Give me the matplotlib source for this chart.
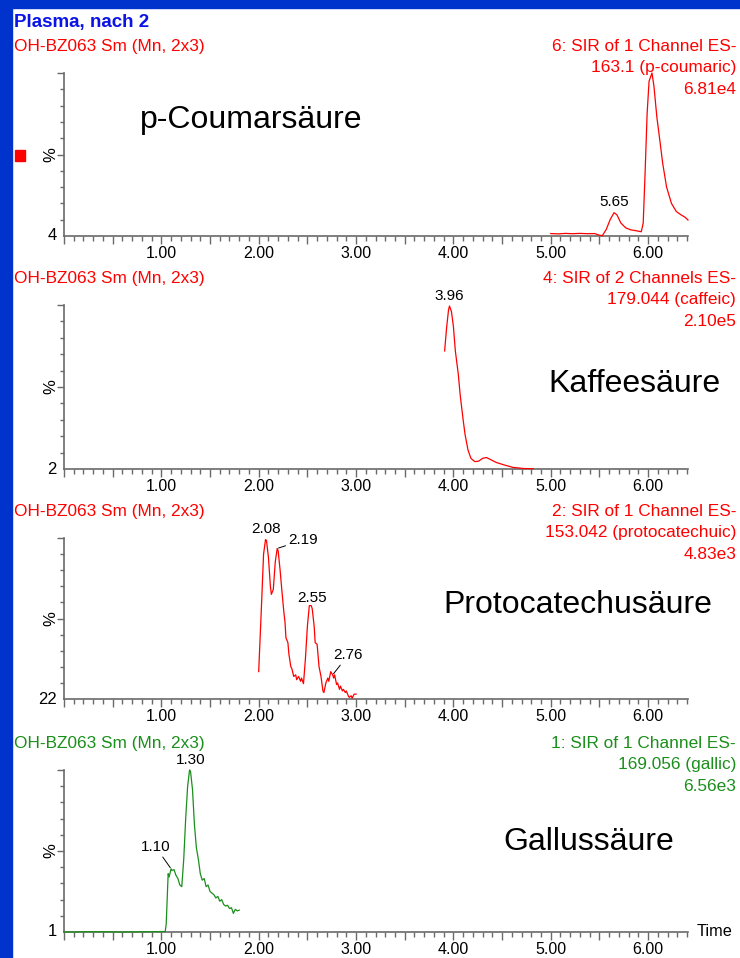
import matplotlib
matplotlib.use("Agg")
import matplotlib.pyplot as plt
from matplotlib.patches import Rectangle
from matplotlib.ticker import MultipleLocator, FixedLocator, NullFormatter, FuncFormatter

plt.rcParams['font.family'] = ['Liberation Sans', 'DejaVu Sans']

W, H = 740, 958

# ---- data (time in min, intensity in %) ----
title = "Plasma, nach 2"
sample = "OH-BZ063 Sm (Mn, 2x3)"
compounds = ["p-Coumarsäure", "Kaffeesäure", "Protocatechusäure", "Gallussäure"]
channel_info = [
    ["6: SIR of 1 Channel ES-", "163.1 (p-coumaric)", "6.81e4"],
    ["4: SIR of 2 Channels ES-", "179.044 (caffeic)", "2.10e5"],
    ["2: SIR of 1 Channel ES-", "153.042 (protocatechuic)", "4.83e3"],
    ["1: SIR of 1 Channel ES-", "169.056 (gallic)", "6.56e3"],
]
baseline_vals = ["4", "2", "22", "1"]

coum_t = [5.00, 5.08, 5.15, 5.22, 5.30, 5.38, 5.45, 5.50, 5.53, 5.57, 5.61, 5.65,
          5.68, 5.72, 5.77, 5.82, 5.88, 5.93, 5.95, 5.97, 5.99, 6.01, 6.04, 6.06,
          6.09, 6.12, 6.15, 6.19, 6.24, 6.29, 6.34, 6.38, 6.41]
coum_i = [1.5, 1.3, 1.6, 1.4, 1.6, 1.4, 1.5, 0.5, 0.2, 4, 10, 14.3,
          13, 8, 5, 3.8, 3.2, 2.6, 8, 40, 75, 95, 100, 92,
          73, 59, 44.6, 30, 20, 15, 12.9, 11.5, 9.8]

caff_t = [3.91, 3.93, 3.95, 3.96, 3.98, 4.00, 4.02, 4.05, 4.07, 4.10, 4.12, 4.15,
          4.18, 4.22, 4.26, 4.30, 4.34, 4.38, 4.44, 4.52, 4.61, 4.72, 4.82]
caff_i = [72, 86, 97, 99.4, 96, 87, 72, 58, 45, 30, 21, 11.6,
          6.5, 4.5, 4.8, 6.5, 7, 5.8, 4, 2.5, 1, 0.3, 0.2]

proto_t = [2.00, 2.03, 2.05, 2.07, 2.08, 2.10, 2.12, 2.13, 2.15, 2.17, 2.19, 2.20,
           2.22, 2.24, 2.26, 2.27, 2.28, 2.30, 2.31, 2.33, 2.34, 2.36, 2.38, 2.39,
           2.41, 2.43, 2.44, 2.46, 2.48, 2.50, 2.52, 2.54, 2.55, 2.57, 2.58, 2.60,
           2.62, 2.64, 2.66, 2.67, 2.69, 2.71, 2.72, 2.74, 2.76, 2.77, 2.78, 2.80,
           2.81, 2.83, 2.84, 2.86, 2.87, 2.89, 2.90, 2.92, 2.93, 2.95, 2.96, 2.98, 3.00]
proto_i = [17, 60, 90, 99, 98.5, 88, 70, 65, 68, 85, 93.5, 92,
           80, 66, 53, 48, 38, 35, 28, 20, 19, 14, 15, 12,
           14, 11, 13, 9.5, 25, 45, 58, 58, 56, 45, 35, 34,
           20, 14, 5, 4, 10, 13, 11, 17, 15, 13, 15, 9,
           10, 6, 8, 5, 6, 4, 5, 2, 1, 2, 0.5, 3, 3]

gall_t = [0.00, 0.30, 0.60, 0.90, 1.04, 1.05, 1.07, 1.08, 1.10, 1.11, 1.13, 1.15,
          1.17, 1.19, 1.21, 1.23, 1.25, 1.27, 1.29, 1.30, 1.32, 1.34, 1.36, 1.38,
          1.40, 1.42, 1.44, 1.46, 1.48, 1.50, 1.52, 1.54, 1.56, 1.58, 1.60, 1.62,
          1.64, 1.66, 1.68, 1.70, 1.72, 1.74, 1.76, 1.78, 1.80]
gall_i = [0, 0.2, 0, 0.2, 0.3, 5, 36, 34, 39, 38, 38.5, 35,
          33, 29, 28, 45, 70, 90, 100, 99, 88, 66, 52, 45,
          36, 32, 33, 28, 29, 25, 24, 23, 21, 22, 19, 20,
          17, 16, 16.5, 14.5, 15, 11.5, 14, 13, 13.5]

peaks = [
    [(5.65, 14.3, "5.65")],
    [(3.96, 99.4, "3.96")],
    [(2.08, 98.5, "2.08"), (2.19, 93.5, "2.19"), (2.55, 56, "2.55"), (2.76, 15, "2.76")],
    [(1.10, 39, "1.10"), (1.30, 99, "1.30")],
]

traces = [(coum_t, coum_i), (caff_t, caff_i), (proto_t, proto_i), (gall_t, gall_i)]

# ---- layout ----
red = '#ff0000'
green = '#1b8f1b'
colors = [red, red, red, green]
tops = [73, 305, 538, 770]
bots = [236, 469, 699, 932]
x_left, x_right = 64, 688
name_pos = [(140, 120), (548, 384), (443, 605), (503, 842)]
# label offsets (points) and whether a leader line is drawn
label_style = {
    "5.65": (0, 2.5, 'center', False), "3.96": (0, 2.5, 'center', False),
    "2.08": (0, 3.5, 'center', False), "2.19": (8, 1, 'left', True),
    "2.55": (0, 3, 'center', False), "2.76": (11, 9, 'center', True),
    "1.10": (-11, 10.5, 'center', True), "1.30": (0, 3, 'center', False),
}

fig = plt.figure(figsize=(W / 100, H / 100), dpi=100)
fig.patch.set_facecolor('white')

def fx(x):
    return x / W

def fy(y):
    return 1 - y / H

# blue frame on left and top
fig.add_artist(Rectangle((0, 0), fx(12), 1, transform=fig.transFigure,
                         color='#0033cc', zorder=0))
fig.add_artist(Rectangle((0, fy(8)), 1, fx(0) + 8 / H, transform=fig.transFigure,
                         color='#0033cc', zorder=0))
fig.add_artist(Rectangle((fx(15), fy(161)), fx(10), 11 / H, transform=fig.transFigure,
                         color=red, zorder=3))

fig.text(fx(14), fy(27), title, color='#0a14e6', fontsize=13.5, fontweight='bold',
         va='baseline', ha='left')

axes_w = (x_right - x_left) / W
for k in range(4):
    top, bot = tops[k], bots[k]
    ax = fig.add_axes([fx(x_left), fy(bot), axes_w, (bot - top) / H])
    t, i = traces[k]
    ax.plot(t, i, color=colors[k], lw=0.9, clip_on=False, zorder=5)
    ax.set_xlim(0, 6.41)
    ax.set_ylim(0, 100)
    for s in ['top', 'right']:
        ax.spines[s].set_visible(False)
    for s in ['left', 'bottom']:
        ax.spines[s].set_color('#6a6a6a')
        ax.spines[s].set_linewidth(1.2)

    ax.xaxis.set_major_locator(MultipleLocator(0.5))
    ax.xaxis.set_minor_locator(MultipleLocator(0.1))
    ax.xaxis.set_major_formatter(FuncFormatter(
        lambda v, p: f"{v:.2f}" if abs(v - round(v)) < 1e-6 and v > 0.5 else ""))
    ax.tick_params(axis='x', which='major', length=5.8, width=1.0, color='#6a6a6a',
                   labelsize=11.5, pad=1.5, direction='out')
    ax.tick_params(axis='x', which='minor', length=3.6, width=1.0, color='#6a6a6a',
                   direction='out')
    ax.yaxis.set_major_locator(FixedLocator([50, 100]))
    ax.yaxis.set_minor_locator(FixedLocator([10, 20, 30, 40, 60, 70, 80, 90]))
    ax.yaxis.set_major_formatter(NullFormatter())
    ax.tick_params(axis='y', which='major', length=5, width=1.0, color='#6a6a6a')
    ax.tick_params(axis='y', which='minor', length=2.6, width=1.0, color='#6a6a6a')

    ytr = ax.get_yaxis_transform()
    ax.text((51 - x_left) / (x_right - x_left), 50, '%', transform=ytr, rotation=90,
            fontsize=12, ha='center', va='center')
    ax.text((57 - x_left) / (x_right - x_left), 0, baseline_vals[k], transform=ytr,
            fontsize=12, ha='right', va='center')

    # headers
    fig.text(fx(14), fy(top - 22), sample, color=colors[k], fontsize=12.4,
             ha='left', va='baseline')
    for j, line in enumerate(channel_info[k]):
        fig.text(fx(736), fy(top - 22 + 21.3 * j), line, color=colors[k],
                 fontsize=12.4, ha='right', va='baseline')
    nx, ny = name_pos[k]
    fig.text(fx(nx), fy(ny), compounds[k], fontsize=23, ha='left', va='center')

    for (pt, pi, lab) in peaks[k]:
        dx, dy, ha, leader = label_style[lab]
        ap = None
        if leader:
            ap = dict(arrowstyle='-', color='black', lw=0.7, shrinkA=0, shrinkB=1)
        ax.annotate(lab, (pt, pi), xytext=(dx, dy), textcoords='offset points',
                    ha=ha, va='bottom', fontsize=11, arrowprops=ap,
                    annotation_clip=False)

    if k == 3:
        ax.text((697 - x_left) / (x_right - x_left), 0, 'Time', transform=ytr,
                fontsize=11.7, ha='left', va='center')

fig.savefig("out.png", dpi=100)
